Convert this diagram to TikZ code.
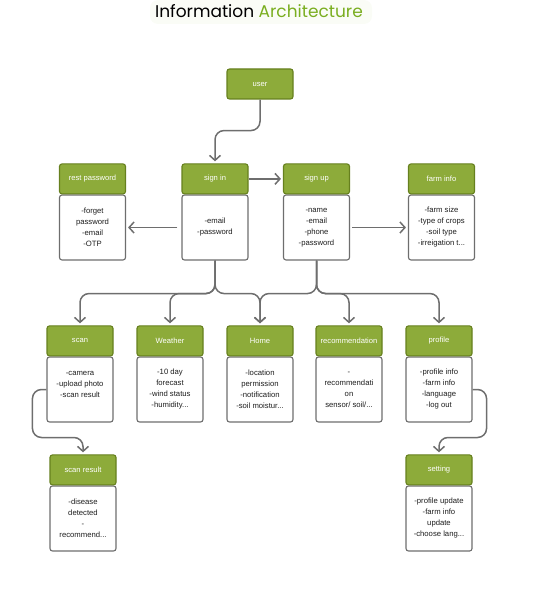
\documentclass[tikz,border=0pt]{standalone}
\usepackage{fontspec}
\setmainfont{Liberation Sans}
\newfontfamily\titlefont{Poppins}
\usepackage{tikz}
\usetikzlibrary{positioning,arrows.meta}
\definecolor{colorhead}   {RGB}{141,171,58}
\definecolor{colorborder} {RGB}{102,128,30}
\definecolor{colorline}   {RGB}{110,110,110}
\definecolor{colortext}   {RGB}{30 ,30 ,30 }
\definecolor{colortitle}  {RGB}{122,174,32}

\begin{document}
\begin{tikzpicture}[
    x=1pt, y=-1pt, node distance = 0pt,
    head/.style={draw=colorborder,fill=colorhead,line width=1.1pt,rounded corners=2.5pt,
        minimum width=66pt,minimum height=30pt,text=white,font={\fontsize{7.6}{9}\selectfont}},
    body/.style={draw=colorline,fill=white,line width=1.1pt,rounded corners=2.5pt,
        minimum width=66pt,minimum height=65pt,align=center,text=colortext,
        font={\fontsize{7.7}{11}\selectfont}},
    conn/.style={draw=colorline,line width=1.5pt,rounded corners=9pt,
        -{Straight Barb[length=5pt,width=11pt]},shorten >=2pt},
]
    \useasboundingbox (0,0) rectangle (544,596);
    \fill[colortitle!4,rounded corners=8pt] (150,0) rectangle (372,24);
    \node[font={\titlefont\fontsize{17}{20}\selectfont}] (title) at (259,11)
        {Information \textcolor{colortitle}{Architecture}};

    \node[head] (user) at (260,84) {user};

    % first row
    \node[body] (restb) at (92.5,227.5) {-forget\\password\\-email\\-OTP};
    \node[head,above=0pt of restb] (resth) {rest password};
    \node[body] (signinb) at (215,227.5) {-email\\-password};
    \node[head,above=0pt of signinb] (signinh) {sign in};
    \node[body] (signupb) at (316.5,227.5) {-name\\-email\\-phone\\-password};
    \node[head,above=0pt of signupb] (signuph) {sign up};
    \node[body] (farmb) at (441.5,227.5) {-farm size\\-type of crops\\-soil type\\-irreigation t...};
    \node[head,above=0pt of farmb] (farmh) {farm info};

    % second row
    \node[body] (scanb) at (80,389.5) {-camera\\-upload photo\\-scan result\\\mbox{}};
    \node[head,above=0pt of scanb] (scanh) {scan};
    \node[body] (weatherb) at (170,389.5) {-10 day\\forecast\\-wind status\\-humidity...};
    \node[head,above=0pt of weatherb] (weatherh) {Weather};
    \node[body] (homeb) at (260,389.5) {-location\\permission\\-notification\\-soil moistur...};
    \node[head,above=0pt of homeb] (homeh) {Home};
    \node[body] (recb) at (349,389.5) {-\\recommendati\\on\\sensor/ soil/...};
    \node[head,above=0pt of recb] (rech) {recommendation};
    \node[body] (profileb) at (439,389.5) {-profile info\\-farm info\\-language\\-log out};
    \node[head,above=0pt of profileb] (profileh) {profile};

    % third row
    \node[body] (scanresb) at (83,518.5) {-disease\\detected\\-\\recommend...};
    \node[head,above=0pt of scanresb] (scanresh) {scan result};
    \node[body] (settingb) at (439,518.5) {-profile update\\-farm info\\update\\-choose lang...};
    \node[head,above=0pt of settingb] (settingh) {setting};

    % connectors
    \draw[conn] (user.south) -- ++(0,31) -| (signinh.north);
    \draw[conn] (signinh.east) -- (signuph.west);
    \draw[conn,shorten <=4pt] (signinb.west) -- (restb.east);
    \draw[conn,shorten <=2pt] (signupb.east) -- (farmb.west);
    \foreach \t in {scanh,weatherh,homeh}
        \draw[conn] (signinb.south) -- ++(0,33) -| (\t.north);
    \foreach \t in {homeh,rech,profileh}
        \draw[conn] (signupb.south) -- ++(0,33) -| (\t.north);
    \draw[conn] (scanb.west) -- ++(-14,0) -- ++(0,48) -| (scanresh.north);
    \draw[conn] (profileb.east) -- ++(14,0) -- ++(0,48) -| (settingh.north);

\end{tikzpicture}
\end{document}
